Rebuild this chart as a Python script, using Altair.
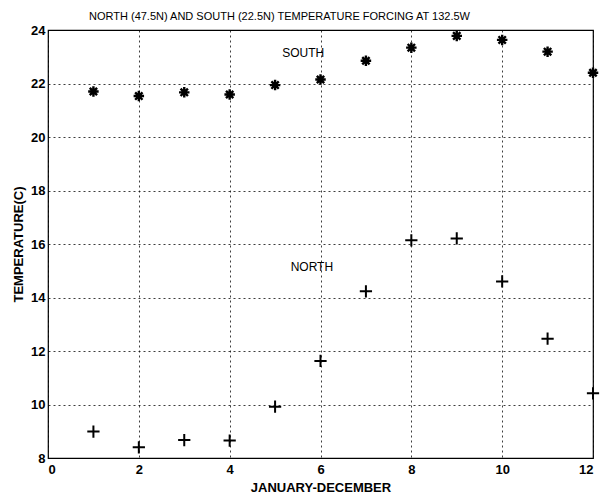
import altair as alt
import pandas as pd

# Monthly temperature forcing (deg C) at 132.5W
months = list(range(1, 13))
south_temp = [21.70, 21.53, 21.67, 21.59, 21.94, 22.15, 22.85, 23.34, 23.78, 23.63, 23.19, 22.40]
north_temp = [8.99, 8.40, 8.67, 8.65, 9.92, 11.63, 14.23, 16.14, 16.21, 14.60, 12.46, 10.42]

label_text = ["SOUTH", "NORTH"]
label_x = [5.62, 5.81]
label_y = [23.14, 15.13]

x_ticks = [0, 2, 4, 6, 8, 10, 12]
y_ticks = [8, 10, 12, 14, 16, 18, 20, 22, 24]

FONT = "Liberation Sans"

south_df = pd.DataFrame({"month": months, "temp": south_temp})
north_df = pd.DataFrame({"month": months, "temp": north_temp})
labels_df = pd.DataFrame({"text": label_text, "x": label_x, "y": label_y})

x_scale = alt.Scale(domain=[0, 12], nice=False, zero=False)
y_scale = alt.Scale(domain=[8, 24], nice=False, zero=False)

x_axis = alt.Axis(values=x_ticks, title="JANUARY-DECEMBER", format="d")
y_axis = alt.Axis(values=y_ticks, title="TEMPERATURE(C)", format="d")

# asterisk and plus glyphs, stroked
star_path = "M-1,0L1,0M0,-1L0,1M-0.7,-0.7L0.7,0.7M-0.7,0.7L0.7,-0.7"
plus_path = "M-1,0L1,0M0,-1L0,1"

south = alt.Chart(south_df).mark_point(
    shape=star_path, size=110, filled=False, stroke="black", strokeWidth=2.4, opacity=1
).encode(
    x=alt.X("month:Q", scale=x_scale, axis=x_axis),
    y=alt.Y("temp:Q", scale=y_scale, axis=y_axis),
)

north = alt.Chart(north_df).mark_point(
    shape=plus_path, size=150, filled=False, stroke="black", strokeWidth=2, opacity=1
).encode(
    x=alt.X("month:Q", scale=x_scale),
    y=alt.Y("temp:Q", scale=y_scale),
)

labels = alt.Chart(labels_df).mark_text(
    font=FONT, fontSize=12, fontWeight=500, color="black", align="center", baseline="middle"
).encode(
    x=alt.X("x:Q", scale=x_scale),
    y=alt.Y("y:Q", scale=y_scale),
    text="text:N",
)

chart = alt.layer(south, north, labels).properties(
    width=545,
    height=428,
    title=alt.TitleParams(
        "NORTH (47.5N) AND SOUTH (22.5N) TEMPERATURE FORCING AT 132.5W",
        font=FONT, fontSize=11, fontWeight="normal", color="black",
        anchor="middle", dx=-41, offset=2,
    ),
    autosize=alt.AutoSizeParams(type="none"),
    padding={"left": 48, "top": 30, "right": 15, "bottom": 36},
).configure_view(
    stroke="black", strokeWidth=1.2
).configure_axis(
    domain=False,
    ticks=False,
    grid=True,
    gridColor="black",
    gridDash=[2, 3],
    gridWidth=0.9,
    gridOpacity=0.85,
    labelFont=FONT,
    labelFontSize=13,
    labelFontWeight="bold",
    labelColor="black",
    titleFont=FONT,
    titleFontSize=13,
    titleFontWeight="bold",
    titleColor="black",
).configure_axisX(
    labelPadding=5, titlePadding=5
).configure_axisY(
    labelPadding=3, titlePadding=5
)

chart.save("out.html", embed_options={"renderer": "svg", "actions": False})
